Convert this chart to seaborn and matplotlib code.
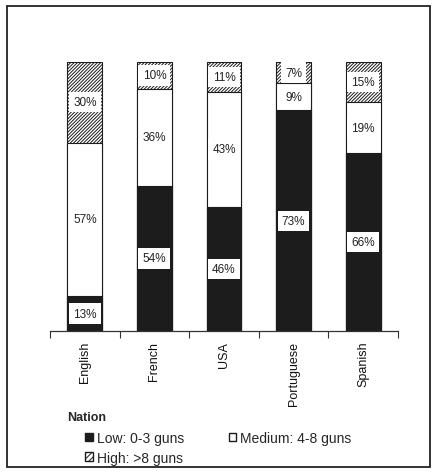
import matplotlib
matplotlib.use("Agg")
import matplotlib.pyplot as plt
import seaborn as sns
import numpy as np
import pandas as pd
from matplotlib.patches import Patch, Rectangle
from matplotlib.ticker import FixedLocator

nations = ["English", "French", "USA", "Portuguese", "Spanish"]
low = [13, 54, 46, 73, 66]
medium = [57, 36, 43, 9, 19]
high = [30, 10, 11, 7, 15]
series_labels = ["Low: 0-3 guns", "Medium: 4-8 guns", "High: >8 guns"]

sns.set_theme(style="white")
plt.rcParams["font.family"] = ["Liberation Sans", "DejaVu Sans"]
plt.rcParams["hatch.linewidth"] = 0.7

low_a = np.array(low, float)
med_a = np.array(medium, float)
high_a = np.array(high, float)
tot = low_a + med_a + high_a
low_n = low_a / tot * 100
med_n = med_a / tot * 100
high_n = high_a / tot * 100

df = pd.DataFrame({
    "Nation": nations,
    "top": low_n + med_n + high_n,
    "mid": low_n + med_n,
    "bot": low_n,
})

W, H = 435, 477
fig = plt.figure(figsize=(W / 100, H / 100), dpi=100)
ax = fig.add_axes([50 / W, 1 - 332 / H, 348 / W, 269 / H])

blk = "#1c1c1c"
HATCH = "//////////"
sns.barplot(data=df, x="Nation", y="top", order=nations, color="white", saturation=1,
            width=0.5, edgecolor=blk, linewidth=0.8, hatch=HATCH, ax=ax)
sns.barplot(data=df, x="Nation", y="mid", order=nations, color="white", saturation=1,
            width=0.5, edgecolor=blk, linewidth=0.8, ax=ax)
sns.barplot(data=df, x="Nation", y="bot", order=nations, color=blk, saturation=1,
            width=0.5, edgecolor=blk, linewidth=0.8, ax=ax)

bbox = dict(boxstyle="square,pad=0.35", facecolor="white", edgecolor="none")
for i in range(len(nations)):
    segs = [(low_n[i], low[i]), (med_n[i], medium[i]), (high_n[i], high[i])]
    base = 0
    for h, v in segs:
        ax.text(i, base + h / 2, f"{v}%", ha="center", va="center", fontsize=8.5,
                color="#222222", bbox=bbox)
        base += h

ax.set_xlim(-0.5, len(nations) - 0.5)
ax.set_ylim(0, 100)
ax.set_xlabel("")
ax.set_ylabel("")
ax.set_yticks([])
for s in ["left", "right", "top"]:
    ax.spines[s].set_visible(False)
ax.spines["bottom"].set_color("#333333")
ax.spines["bottom"].set_linewidth(0.9)
ax.set_xticks(range(len(nations)))
ax.set_xticklabels(nations, rotation=90, fontsize=9, va="top", ha="center")
ax.xaxis.set_minor_locator(FixedLocator(np.arange(-0.5, len(nations), 1.0)))
ax.tick_params(axis="x", which="major", length=0, pad=7, colors="#111111")
ax.tick_params(axis="x", which="minor", length=5, width=0.8, color="#333333", bottom=True)

fig.text(67 / W, 1 - 418 / H, "Nation", fontsize=9, fontweight="bold", va="center", ha="left")
handles = [
    Patch(facecolor=blk, edgecolor=blk, label=series_labels[0]),
    Patch(facecolor="white", edgecolor=blk, hatch="//////", label=series_labels[2]),
    Patch(facecolor="white", edgecolor=blk, label=series_labels[1]),
]
fig.legend(handles=handles, loc="upper left", bbox_to_anchor=(85 / W, 1 - 432 / H),
           ncol=2, frameon=False, fontsize=10, handlelength=0.55, handleheight=0.55,
           handletextpad=0.3, labelspacing=0.4, columnspacing=3.2,
           borderaxespad=0, borderpad=0)

fig.patches.append(Rectangle((7 / W, 1 - 468 / H), 423 / W, 461 / H, transform=fig.transFigure,
                             fill=False, edgecolor="#222222", linewidth=1.3))

fig.savefig("out.png", dpi=100)
